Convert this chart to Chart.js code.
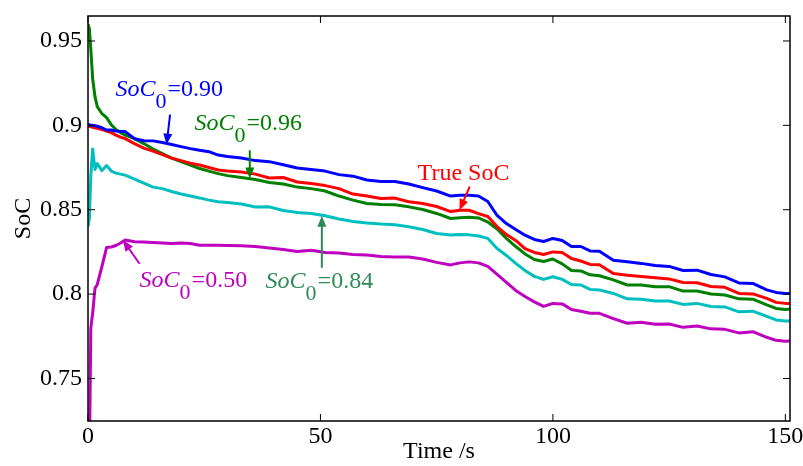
<!DOCTYPE html>
<html>
<head>
<meta charset="utf-8">
<script src="https://cdn.jsdelivr.net/npm/chart.js@4.4.0/dist/chart.umd.min.js"></script>
<style>
  html, body { margin: 0; padding: 0; background: #fff; }
</style>
</head>
<body>
<canvas id="soc_chart" width="803" height="466"></canvas>
<script>
// time axis (s)
const timeS = [0, 0.3, 0.6, 1, 1.5, 2,
    3, 4, 5, 6, 7, 8,
    10, 12, 14, 16, 18, 20, 22, 24, 26, 28, 30,
    33, 36, 39, 42, 45, 48, 51, 54, 57, 60,
    63, 66, 69, 72, 75, 78,
    80, 82, 84, 86, 88, 90, 92, 94, 96, 98, 100, 102, 104, 106, 108, 110,
    113, 116, 119, 122, 125, 128, 131, 134, 137, 140, 143, 146,
    148, 150, 151];

// estimated SoC, initial value 0.90
const socInit090 = [0.9000, 0.9004, 0.9001, 0.9000, 0.8998, 0.8995,
    0.8986, 0.8972, 0.8972, 0.8966, 0.8963, 0.8963,
    0.8921, 0.8909, 0.8908, 0.8898, 0.8886, 0.8874, 0.8862, 0.8853, 0.8844, 0.8824, 0.8815,
    0.8806, 0.8791, 0.8785, 0.8767, 0.8747, 0.8738, 0.8729, 0.8708, 0.8699, 0.8676,
    0.8667, 0.8667, 0.8652, 0.8631, 0.8611, 0.8581,
    0.8586, 0.8586, 0.8581, 0.8549, 0.8466, 0.8418, 0.8383, 0.8349, 0.8324, 0.8312, 0.8330, 0.8318, 0.8282, 0.8282, 0.8256, 0.8254,
    0.8201, 0.8192, 0.8182, 0.8170, 0.8164, 0.8140, 0.8142, 0.8116, 0.8102, 0.8066, 0.8063, 0.8025,
    0.8010, 0.8004, 0.8004];

// true SoC
const socTrue = [0.8996, 0.8995, 0.8992, 0.8989, 0.8986, 0.8983,
    0.8975, 0.8966, 0.8957, 0.8942, 0.8930, 0.8921,
    0.8892, 0.8865, 0.8847, 0.8827, 0.8806, 0.8791, 0.8776, 0.8765, 0.8750, 0.8735, 0.8729,
    0.8723, 0.8711, 0.8688, 0.8691, 0.8664, 0.8655, 0.8643, 0.8625, 0.8593, 0.8581,
    0.8566, 0.8569, 0.8547, 0.8537, 0.8519, 0.8489,
    0.8497, 0.8497, 0.8477, 0.8460, 0.8400, 0.8353, 0.8318, 0.8270, 0.8247, 0.8235, 0.8250, 0.8247, 0.8211, 0.8196, 0.8176, 0.8174,
    0.8122, 0.8112, 0.8105, 0.8097, 0.8090, 0.8069, 0.8067, 0.8045, 0.8040, 0.8004, 0.8001, 0.7975,
    0.7951, 0.7945, 0.7945];

// estimated SoC, initial value 0.96
const socInit096 = [0.9600, 0.9572, 0.9454, 0.9276, 0.9170, 0.9111,
    0.9069, 0.9046, 0.9004, 0.8975, 0.8957, 0.8942,
    0.8921, 0.8892, 0.8860, 0.8833, 0.8806, 0.8785, 0.8765, 0.8744, 0.8729, 0.8714, 0.8702,
    0.8691, 0.8679, 0.8661, 0.8652, 0.8634, 0.8625, 0.8611, 0.8581, 0.8557, 0.8537,
    0.8531, 0.8530, 0.8517, 0.8501, 0.8478, 0.8448,
    0.8452, 0.8455, 0.8451, 0.8427, 0.8386, 0.8330, 0.8282, 0.8238, 0.8205, 0.8193, 0.8208, 0.8179, 0.8140, 0.8137, 0.8114, 0.8109,
    0.8084, 0.8054, 0.8054, 0.8044, 0.8044, 0.8018, 0.8018, 0.8001, 0.7995, 0.7972, 0.7970, 0.7936,
    0.7915, 0.7909, 0.7911];

// estimated SoC, initial value 0.84
const socInit084 = [0.8400, 0.8450, 0.8700, 0.8860, 0.8738, 0.8773,
    0.8732, 0.8762, 0.8729, 0.8717, 0.8711, 0.8705,
    0.8682, 0.8658, 0.8634, 0.8625, 0.8608, 0.8593, 0.8581, 0.8570, 0.8557, 0.8547, 0.8543,
    0.8534, 0.8516, 0.8517, 0.8495, 0.8483, 0.8477, 0.8464, 0.8445, 0.8430, 0.8421,
    0.8415, 0.8411, 0.8399, 0.8383, 0.8359, 0.8350,
    0.8353, 0.8351, 0.8344, 0.8330, 0.8270, 0.8229, 0.8182, 0.8140, 0.8105, 0.8087, 0.8103, 0.8087, 0.8057, 0.8054, 0.8028, 0.8025,
    0.8004, 0.7972, 0.7969, 0.7959, 0.7959, 0.7939, 0.7945, 0.7927, 0.7924, 0.7895, 0.7899, 0.7868,
    0.7847, 0.7840, 0.7840];

// estimated SoC, initial value 0.50
const socInit050 = [0.5000, 0.7000, 0.7797, 0.7886, 0.8034, 0.8057,
    0.8164, 0.8276, 0.8279, 0.8288, 0.8303, 0.8320,
    0.8310, 0.8309, 0.8306, 0.8303, 0.8300, 0.8303, 0.8300, 0.8290, 0.8290, 0.8290, 0.8288,
    0.8286, 0.8282, 0.8273, 0.8264, 0.8253, 0.8260, 0.8247, 0.8244, 0.8235, 0.8232,
    0.8223, 0.8220, 0.8220, 0.8208, 0.8188, 0.8173,
    0.8185, 0.8191, 0.8185, 0.8164, 0.8117, 0.8069, 0.8022, 0.7986, 0.7954, 0.7927, 0.7945, 0.7942, 0.7909, 0.7898, 0.7886, 0.7886,
    0.7855, 0.7827, 0.7833, 0.7821, 0.7823, 0.7803, 0.7811, 0.7794, 0.7791, 0.7770, 0.7777, 0.7744,
    0.7726, 0.7720, 0.7722];

const xTicks = [0, 50, 100, 150];
const yTicks = [0.75, 0.8, 0.85, 0.9, 0.95];
const yTickLabels = ['0.75', '0.8', '0.85', '0.9', '0.95'];

const serif = '"Liberation Serif", "Times New Roman", serif';

// text labels with arrows, placed in data units (time, SoC)
const notes = [
    { sub: '0', rest: '=0.90', color: '#0000ff', at: [5.9, 0.9176], from: [17.65, 0.9063], to: [16.9, 0.8886] },
    { sub: '0', rest: '=0.96', color: '#008000', at: [22.9, 0.8970], from: [34.8, 0.8852], to: [34.8, 0.8685] },
    { plain: 'True SoC', color: '#ff0000', at: [70.9, 0.8675], from: [82.1, 0.8637], to: [79.9, 0.8497] },
    { sub: '0', rest: '=0.84', color: '#2e8b57', at: [38.2, 0.8034], from: [50.3, 0.8156], to: [50.3, 0.8464] },
    { sub: '0', rest: '=0.50', color: '#bf00bf', at: [11.1, 0.8044], from: [11.1, 0.8180], to: [7.5, 0.8320] }
];

function series(values) {
    return timeS.map((t, i) => ({ x: t, y: values[i] }));
}

function line(label, values, color) {
    return {
        label: label,
        data: series(values),
        borderColor: color,
        backgroundColor: color,
        borderWidth: 3,
        pointRadius: 0,
        tension: 0,
        borderJoinStyle: 'round'
    };
}

const framePlugin = {
    id: 'frame',
    afterDraw(chart) {
        const { ctx, chartArea: a, scales: { x, y } } = chart;
        ctx.save();
        ctx.strokeStyle = '#000';
        ctx.lineWidth = 1.5;
        ctx.strokeRect(a.left, a.top, a.right - a.left, a.bottom - a.top);
        ctx.lineWidth = 1;
        ctx.beginPath();
        xTicks.forEach(v => {
            const px = x.getPixelForValue(v);
            ctx.moveTo(px, a.bottom); ctx.lineTo(px, a.bottom - 7);
            ctx.moveTo(px, a.top); ctx.lineTo(px, a.top + 7);
        });
        yTicks.forEach(v => {
            const py = y.getPixelForValue(v);
            ctx.moveTo(a.left, py); ctx.lineTo(a.left + 7, py);
            ctx.moveTo(a.right, py); ctx.lineTo(a.right - 7, py);
        });
        ctx.stroke();
        ctx.restore();
    }
};

const notePlugin = {
    id: 'notes',
    afterDatasetsDraw(chart) {
        const { ctx, scales: { x, y } } = chart;
        ctx.save();
        ctx.textBaseline = 'alphabetic';
        ctx.textAlign = 'left';
        notes.forEach(n => {
            ctx.fillStyle = n.color;
            ctx.strokeStyle = n.color;
            let px = x.getPixelForValue(n.at[0]);
            const py = y.getPixelForValue(n.at[1]);
            if (n.plain) {
                ctx.font = '24px ' + serif;
                ctx.fillText(n.plain, px, py);
            } else {
                ctx.font = 'italic 24px ' + serif;
                ctx.fillText('SoC', px, py);
                px += ctx.measureText('SoC').width;
                ctx.font = '22px ' + serif;
                ctx.fillText(n.sub, px, py + 12);
                px += ctx.measureText(n.sub).width + 1;
                ctx.font = '24px ' + serif;
                ctx.fillText(n.rest, px, py);
            }
            // arrow
            const x1 = x.getPixelForValue(n.from[0]), y1 = y.getPixelForValue(n.from[1]);
            const x2 = x.getPixelForValue(n.to[0]), y2 = y.getPixelForValue(n.to[1]);
            const ang = Math.atan2(y2 - y1, x2 - x1);
            const len = 11, half = 4.5;
            ctx.lineWidth = 2;
            ctx.beginPath();
            ctx.moveTo(x1, y1);
            ctx.lineTo(x2 - Math.cos(ang) * len * 0.8, y2 - Math.sin(ang) * len * 0.8);
            ctx.stroke();
            const bx = x2 - Math.cos(ang) * len, by = y2 - Math.sin(ang) * len;
            ctx.beginPath();
            ctx.moveTo(x2, y2);
            ctx.lineTo(bx + Math.sin(ang) * half, by - Math.cos(ang) * half);
            ctx.lineTo(bx - Math.sin(ang) * half, by + Math.cos(ang) * half);
            ctx.closePath();
            ctx.fill();
        });
        ctx.restore();
    }
};

const socCanvas = document.getElementById('soc_chart');
new Chart(socCanvas, {
    type: 'line',
    data: {
        datasets: [
            line('SoC0=0.90', socInit090, '#0000ff'),
            line('True SoC', socTrue, '#ff0000'),
            line('SoC0=0.96', socInit096, '#008000'),
            line('SoC0=0.84', socInit084, '#00bfbf'),
            line('SoC0=0.50', socInit050, '#bf00bf')
        ]
    },
    options: {
        responsive: false,
        animation: false,
        layout: { padding: { left: 0, right: 13, top: 16, bottom: 0 } },
        plugins: { legend: { display: false }, tooltip: { enabled: false } },
        scales: {
            x: {
                type: 'linear',
                min: 0,
                max: 151,
                afterBuildTicks: s => { s.ticks = xTicks.map(v => ({ value: v })); },
                afterFit: s => { s.height = 45; s.paddingLeft = 0; s.paddingRight = 0; },
                grid: { display: false, drawTicks: false },
                border: { display: false },
                ticks: {
                    color: '#000',
                    font: { family: serif, size: 24 },
                    padding: 1,
                    maxRotation: 0,
                    autoSkip: false
                },
                title: {
                    display: true,
                    text: 'Time /s',
                    color: '#000',
                    font: { family: serif, size: 24 },
                    padding: { top: 0, bottom: 0 }
                }
            },
            y: {
                type: 'linear',
                min: 0.7248,
                max: 0.9648,
                afterBuildTicks: s => { s.ticks = yTicks.map(v => ({ value: v })); },
                afterFit: s => { s.width = 88; s.paddingTop = 0; s.paddingBottom = 0; },
                grid: { display: false, drawTicks: false },
                border: { display: false },
                ticks: {
                    color: '#000',
                    font: { family: serif, size: 24 },
                    padding: 6,
                    autoSkip: false,
                    callback: (v, i) => yTickLabels[i]
                },
                title: {
                    display: true,
                    text: 'SoC',
                    color: '#000',
                    font: { family: serif, size: 24 },
                    padding: { top: 9, bottom: 0 }
                }
            }
        }
    },
    plugins: [framePlugin, notePlugin]
});
</script>
</body>
</html>
